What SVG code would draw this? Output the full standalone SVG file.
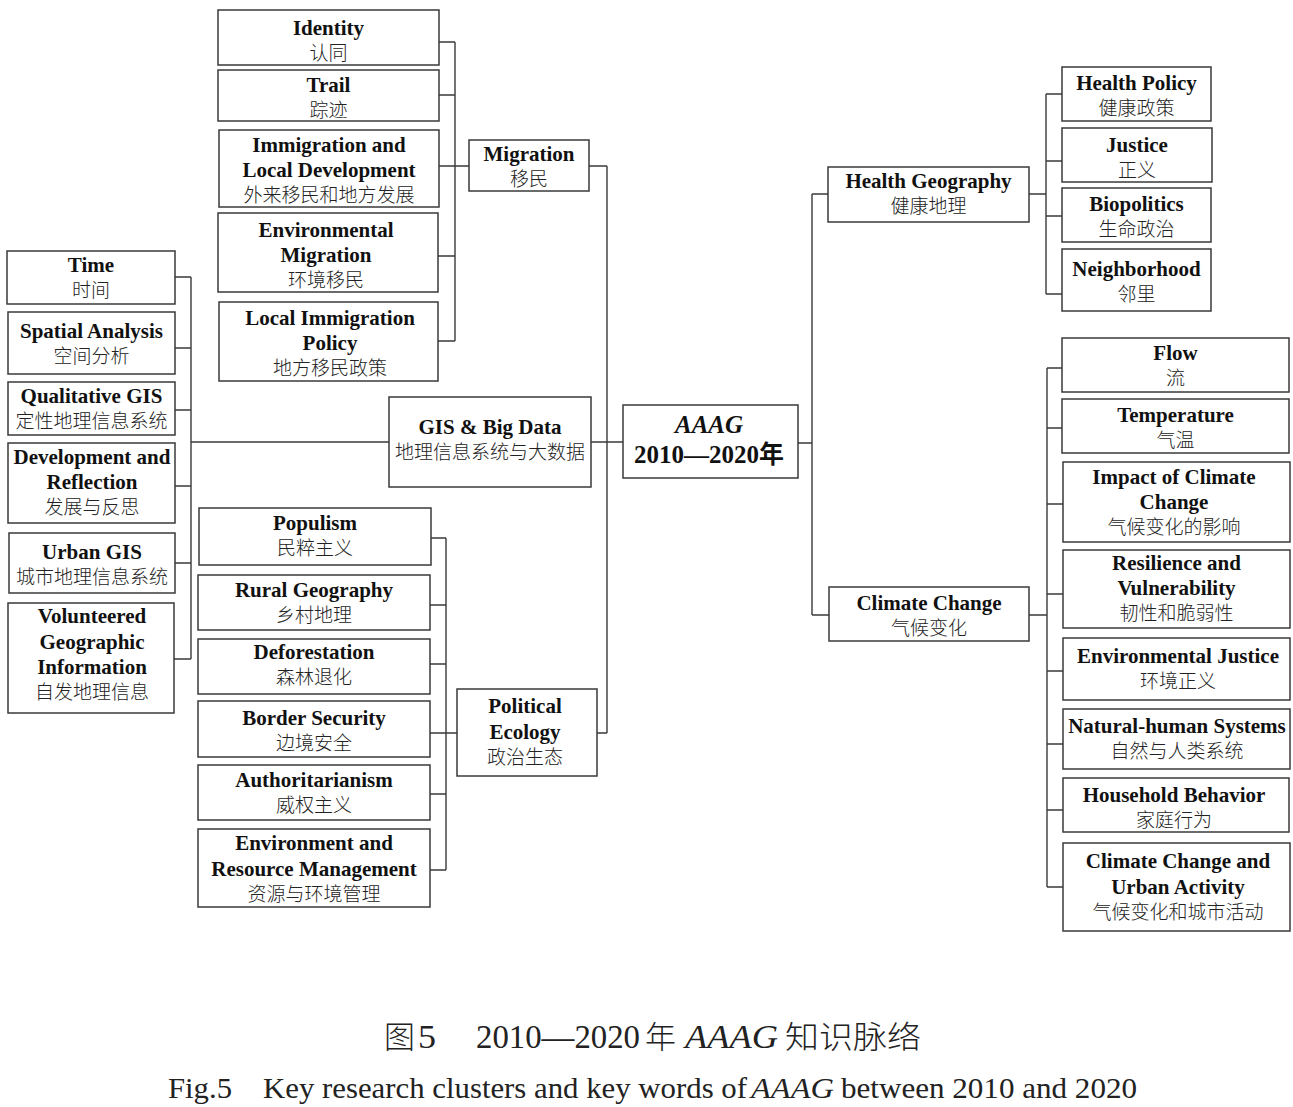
<svg xmlns="http://www.w3.org/2000/svg" width="1293" height="1107" viewBox="0 0 1293 1107">
<style>
.box{fill:#fff;stroke:#3a3a3a;stroke-width:1.5}
.en{font-family:"Liberation Serif","Times New Roman",serif;font-weight:bold;font-size:21px;text-anchor:middle;fill:#111}
.zh{font-family:"Noto Sans CJK SC","Noto Sans CJK JP",sans-serif;font-weight:300;font-size:19px;text-anchor:middle;fill:#222}
.main{font-family:"Liberation Serif","Times New Roman","Noto Sans CJK SC",serif;font-weight:bold;font-size:25px;text-anchor:middle;fill:#111}
.conn{fill:none;stroke:#3a3a3a;stroke-width:1.4}
.cap{font-family:"Liberation Serif","Times New Roman",serif;fill:#222}
.capzh{font-family:"Noto Sans CJK SC",sans-serif;font-weight:300;fill:#222}
</style>
<rect width="1293" height="1107" fill="#fff"/>
<g id="connectors" class="conn">
<path d="M439 42H455M439 95H455M439 166H469M438 256H455M438 341H455M455 42V341"/>
<path d="M589 166H607M607 166V733M591 442H623M597 733H607"/>
<path d="M175 277H191M175 348H191M175 410H191M175 486H191M175 563H191M174 659H191M191 277V659M191 442H389"/>
<path d="M431 538H446M430 605H446M430 664H446M430 733H457M430 794H446M430 870H446M446 538V870"/>
<path d="M798 443H812M812 194V615M812 194H828M812 615H829"/>
<path d="M1029 194H1046M1046 94V294M1046 94H1062M1046 161H1062M1046 216H1062M1046 294H1062"/>
<path d="M1029 615H1047M1047 368V887M1047 368H1062M1047 428H1062M1047 504H1063M1047 594H1063M1047 671H1063M1047 744H1063M1047 810H1063M1047 887H1063"/>
</g>
<g id="identity"><rect class="box" x="218" y="10" width="221" height="55"/><text class="en" x="328.5" y="35">Identity</text><text class="zh" x="328.5" y="60">认同</text></g>
<g id="trail"><rect class="box" x="218" y="70" width="221" height="51"/><text class="en" x="328.5" y="92">Trail</text><text class="zh" x="328.5" y="117">踪迹</text></g>
<g id="immigration"><rect class="box" x="219" y="130" width="220" height="77"/><text class="en" x="329" y="151.5">Immigration and</text><text class="en" x="329" y="176.5">Local Development</text><text class="zh" x="329" y="201.5">外来移民和地方发展</text></g>
<g id="env-migration"><rect class="box" x="218" y="213" width="220" height="79"/><text class="en" x="326" y="237">Environmental</text><text class="en" x="326" y="262">Migration</text><text class="zh" x="326" y="287">环境移民</text></g>
<g id="local-policy"><rect class="box" x="219" y="302" width="219" height="79"/><text class="en" x="330" y="324.5">Local Immigration</text><text class="en" x="330" y="349.5">Policy</text><text class="zh" x="330" y="374.5">地方移民政策</text></g>
<g id="migration"><rect class="box" x="469" y="140" width="120" height="51"/><text class="en" x="529" y="160.5">Migration</text><text class="zh" x="529" y="185.5">移民</text></g>
<g id="time"><rect class="box" x="7" y="251" width="168" height="53"/><text class="en" x="91" y="272">Time</text><text class="zh" x="91" y="297">时间</text></g>
<g id="spatial"><rect class="box" x="8" y="312" width="167" height="62"/><text class="en" x="91.5" y="337.5">Spatial Analysis</text><text class="zh" x="91.5" y="362.5">空间分析</text></g>
<g id="qualitative"><rect class="box" x="8" y="382" width="167" height="53"/><text class="en" x="91.5" y="403">Qualitative GIS</text><text class="zh" x="91.5" y="428">定性地理信息系统</text></g>
<g id="development"><rect class="box" x="8" y="443" width="167" height="80"/><text class="en" x="92" y="463.5">Development and</text><text class="en" x="92" y="489">Reflection</text><text class="zh" x="92" y="514">发展与反思</text></g>
<g id="urban-gis"><rect class="box" x="9" y="533" width="166" height="60"/><text class="en" x="92" y="558.5">Urban GIS</text><text class="zh" x="92" y="583.5">城市地理信息系统</text></g>
<g id="vgi"><rect class="box" x="8" y="603" width="166" height="110"/><text class="en" x="92" y="623">Volunteered</text><text class="en" x="92" y="648.5">Geographic</text><text class="en" x="92" y="673.5">Information</text><text class="zh" x="92" y="698.5">自发地理信息</text></g>
<g id="gis"><rect class="box" x="389" y="397" width="202" height="90"/><text class="en" x="490" y="434">GIS &amp; Big Data</text><text class="zh" x="490" y="459">地理信息系统与大数据</text></g>
<g id="populism"><rect class="box" x="199" y="508" width="232" height="57"/><text class="en" x="315" y="529.5">Populism</text><text class="zh" x="315" y="554.5">民粹主义</text></g>
<g id="rural"><rect class="box" x="198" y="575" width="232" height="55"/><text class="en" x="314" y="596.5">Rural Geography</text><text class="zh" x="314" y="621.5">乡村地理</text></g>
<g id="deforestation"><rect class="box" x="198" y="639" width="232" height="55"/><text class="en" x="314" y="659">Deforestation</text><text class="zh" x="314" y="684">森林退化</text></g>
<g id="border"><rect class="box" x="198" y="701" width="232" height="56"/><text class="en" x="314" y="725">Border Security</text><text class="zh" x="314" y="750">边境安全</text></g>
<g id="authoritarianism"><rect class="box" x="198" y="765" width="232" height="55"/><text class="en" x="314" y="787">Authoritarianism</text><text class="zh" x="314" y="812">威权主义</text></g>
<g id="env-resource"><rect class="box" x="198" y="829" width="232" height="78"/><text class="en" x="314" y="850">Environment and</text><text class="en" x="314" y="875.5">Resource Management</text><text class="zh" x="314" y="900.5">资源与环境管理</text></g>
<g id="political"><rect class="box" x="457" y="689" width="140" height="87"/><text class="en" x="525" y="713">Political</text><text class="en" x="525" y="739">Ecology</text><text class="zh" x="525" y="764">政治生态</text></g>
<g id="aaag"><rect class="box" x="623" y="405" width="175" height="73"/><text class="main" x="709" y="433" font-style="italic">AAAG</text><text class="main" x="709" y="463">2010—2020年</text></g>
<g id="health-geography"><rect class="box" x="828" y="167" width="201" height="55"/><text class="en" x="928.5" y="188">Health Geography</text><text class="zh" x="928.5" y="213">健康地理</text></g>
<g id="health-policy"><rect class="box" x="1062" y="67" width="149" height="54"/><text class="en" x="1136.5" y="89.5">Health Policy</text><text class="zh" x="1136.5" y="114.5">健康政策</text></g>
<g id="justice"><rect class="box" x="1062" y="128" width="150" height="54"/><text class="en" x="1137" y="151.5">Justice</text><text class="zh" x="1137" y="176.5">正义</text></g>
<g id="biopolitics"><rect class="box" x="1062" y="188" width="149" height="54"/><text class="en" x="1136.5" y="210.5">Biopolitics</text><text class="zh" x="1136.5" y="235.5">生命政治</text></g>
<g id="neighborhood"><rect class="box" x="1062" y="249" width="149" height="62"/><text class="en" x="1136.5" y="276">Neighborhood</text><text class="zh" x="1136.5" y="301">邻里</text></g>
<g id="climate-change"><rect class="box" x="829" y="587" width="200" height="54"/><text class="en" x="929" y="609.5">Climate Change</text><text class="zh" x="929" y="634.5">气候变化</text></g>
<g id="flow"><rect class="box" x="1062" y="338" width="227" height="54"/><text class="en" x="1175.5" y="360">Flow</text><text class="zh" x="1175.5" y="385">流</text></g>
<g id="temperature"><rect class="box" x="1062" y="399" width="227" height="54"/><text class="en" x="1175.5" y="422">Temperature</text><text class="zh" x="1175.5" y="447">气温</text></g>
<g id="impact"><rect class="box" x="1063" y="462" width="227" height="80"/><text class="en" x="1174" y="484">Impact of Climate</text><text class="en" x="1174" y="509">Change</text><text class="zh" x="1174" y="534">气候变化的影响</text></g>
<g id="resilience"><rect class="box" x="1063" y="550" width="227" height="78"/><text class="en" x="1176.5" y="570">Resilience and</text><text class="en" x="1176.5" y="595">Vulnerability</text><text class="zh" x="1176.5" y="620">韧性和脆弱性</text></g>
<g id="env-justice"><rect class="box" x="1063" y="638" width="227" height="62"/><text class="en" x="1178" y="662.5">Environmental Justice</text><text class="zh" x="1178" y="687.5">环境正义</text></g>
<g id="natural-human"><rect class="box" x="1063" y="709" width="227" height="60"/><text class="en" x="1177" y="732.5">Natural-human Systems</text><text class="zh" x="1177" y="757.5">自然与人类系统</text></g>
<g id="household"><rect class="box" x="1063" y="778" width="226" height="54"/><text class="en" x="1174" y="801.5">Household Behavior</text><text class="zh" x="1174" y="826.5">家庭行为</text></g>
<g id="urban-activity"><rect class="box" x="1063" y="843" width="227" height="88"/><text class="en" x="1178" y="868">Climate Change and</text><text class="en" x="1178" y="893.5">Urban Activity</text><text class="zh" x="1178" y="918.5">气候变化和城市活动</text></g>
<g id="caption">
<text class="capzh" x="384" y="1048" font-size="31">图</text>
<text class="cap" x="418" y="1048" font-size="33" textLength="18" lengthAdjust="spacingAndGlyphs">5</text>
<text class="cap" x="476" y="1048" font-size="33" textLength="164" lengthAdjust="spacingAndGlyphs">2010—2020</text>
<text class="capzh" x="645" y="1048" font-size="31">年</text>
<text class="cap" x="685" y="1048" font-size="33" font-style="italic" textLength="93" lengthAdjust="spacingAndGlyphs">AAAG</text>
<text class="capzh" x="785" y="1048" font-size="31" textLength="136" lengthAdjust="spacingAndGlyphs">知识脉络</text>
<text class="cap" x="168" y="1098" font-size="30" textLength="64" lengthAdjust="spacingAndGlyphs">Fig.5</text>
<text class="cap" x="263" y="1098" font-size="30" textLength="484" lengthAdjust="spacingAndGlyphs">Key research clusters and key words of</text>
<text class="cap" x="751" y="1098" font-size="30" font-style="italic" textLength="83" lengthAdjust="spacingAndGlyphs">AAAG</text>
<text class="cap" x="841" y="1098" font-size="30" textLength="296" lengthAdjust="spacingAndGlyphs">between 2010 and 2020</text>
</g>
</svg>
